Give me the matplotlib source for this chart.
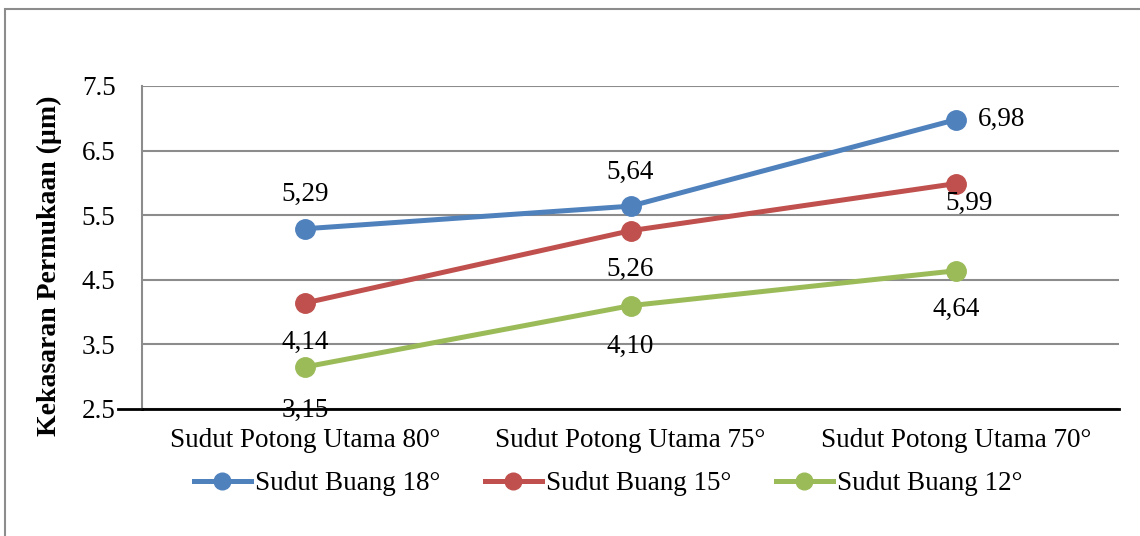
import matplotlib
matplotlib.use("Agg")
import matplotlib.pyplot as plt
from matplotlib.patches import Rectangle
from matplotlib.lines import Line2D

# data
categories = ["Sudut Potong Utama 80°", "Sudut Potong Utama 75°", "Sudut Potong Utama 70°"]
series_names = ["Sudut Buang 18°", "Sudut Buang 15°", "Sudut Buang 12°"]
buang_18 = [5.29, 5.64, 6.98]
buang_15 = [4.14, 5.26, 5.99]
buang_12 = [3.15, 4.10, 4.64]
y_ticks = [2.5, 3.5, 4.5, 5.5, 6.5, 7.5]

colors = ["#4F81BD", "#C0504D", "#9BBB59"]
# where each data label sits relative to its point (dx, dy in points)
label_offsets = [
    [(0, 25), (0, 24), (33, 0)],
    [(0, -28), (0, -28), (9, -14)],
    [(0, -31), (0, -29), (0, -28)],
]

plt.rcParams["font.family"] = ["Liberation Serif", "DejaVu Serif"]
FS = 19.5

W, H = 1140, 536
fig = plt.figure(figsize=(W / 100, H / 100), dpi=100)

# outer chart border (only top and left edges are inside the crop)
fig.patches.append(Rectangle((5 / W, -0.1), 1.2, 1.1 - 9 / H,
                             transform=fig.transFigure, fill=False,
                             edgecolor="#8C8C8C", linewidth=1.5))

ax = fig.add_axes([142 / W, (H - 409) / H, 977 / W, 323 / H])

x = list(range(len(categories)))
all_series = [buang_18, buang_15, buang_12]
for vals, name, color, offs in zip(all_series, series_names, colors, label_offsets):
    ax.plot(x, vals, color=color, linewidth=3.6, marker="o", markersize=14,
            label=name, solid_capstyle="round", zorder=3)
    for xi, v, (dx, dy) in zip(x, vals, offs):
        ax.annotate(f"{v:.2f}".replace(".", ","), (xi, v), xytext=(dx, dy),
                    textcoords="offset points", ha="center", va="center",
                    fontsize=FS, zorder=4)

ax.set_xlim(-0.5, len(categories) - 0.5)
ax.set_ylim(2.5, 7.5)
ax.set_yticks(y_ticks)
ax.set_yticklabels([f"{t:.1f}" for t in y_ticks], fontsize=FS)
ax.set_xticks(x)
ax.set_xticklabels(categories, fontsize=FS)
ax.tick_params(axis="both", length=0)
ax.tick_params(axis="x", pad=14)
ax.tick_params(axis="y", pad=19)
ax.grid(axis="y", color="#8C8C8C", linewidth=1.5)
ax.set_axisbelow(True)

for side in ["top", "right"]:
    ax.spines[side].set_visible(False)
ax.spines["left"].set_color("#8C8C8C")
ax.spines["left"].set_linewidth(1.5)
ax.spines["bottom"].set_color("black")
ax.spines["bottom"].set_linewidth(2)
# horizontal axis line pokes out to the left of the plot area
ax.add_line(Line2D([-24 / 977, 0], [0, 0], transform=ax.transAxes,
                   color="black", linewidth=2, clip_on=False))

ax.set_ylabel("Kekasaran Permukaan (µm)", fontsize=20, fontweight="bold", labelpad=14)
ax.yaxis.label.set_y(0.445)

handles = [Line2D([0], [0], color=c, linewidth=3.6, marker="o", markersize=12)
           for c in colors]
fig.legend(handles, series_names, loc="center", bbox_to_anchor=(608 / W, (H - 484) / H),
           ncol=3, frameon=False, fontsize=FS, handlelength=2.1, handletextpad=0.15,
           columnspacing=1.65, borderaxespad=0, borderpad=0)

fig.savefig("out.png", dpi=100)
